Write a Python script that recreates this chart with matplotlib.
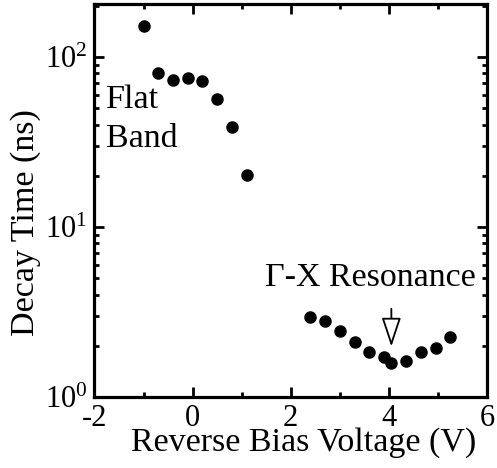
import numpy as np
import matplotlib
matplotlib.use("Agg")
import matplotlib.pyplot as plt
from matplotlib.ticker import LogLocator, LogFormatterMathtext, MultipleLocator, NullFormatter

plt.rcParams['font.family'] = ['Liberation Serif', 'DejaVu Serif']
plt.rcParams['mathtext.fontset'] = 'custom'
plt.rcParams['mathtext.rm'] = 'Liberation Serif'
plt.rcParams['mathtext.it'] = 'Liberation Serif:italic'
plt.rcParams['axes.unicode_minus'] = False

# flat band regime
bias_flat = [-1.0, -0.7, -0.4, -0.1, 0.2, 0.5, 0.8, 1.1]
decay_flat = [153, 80.6, 73.3, 75.2, 72.6, 56.6, 38.5, 20.3]

# Gamma-X resonance regime
bias_res = [2.4, 2.7, 3.0, 3.3, 3.6, 3.9, 4.05, 4.35, 4.65, 4.95, 5.25]
decay_res = [2.94, 2.80, 2.44, 2.10, 1.85, 1.73, 1.59, 1.63, 1.83, 1.93, 2.25]

fig = plt.figure(figsize=(4.97, 4.68), dpi=100)
ax = fig.add_axes([0.190, 0.1517, 0.790, 0.8398])

ax.plot(bias_flat + bias_res, decay_flat + decay_res, 'o', color='black', ms=8, mec='black')

ax.set_yscale('log')
ax.set_xlim(-2, 6)
ax.set_ylim(1, 205)

ax.xaxis.set_major_locator(MultipleLocator(2))
ax.xaxis.set_minor_locator(MultipleLocator(1))
ax.yaxis.set_major_locator(LogLocator(base=10, numticks=5))
ax.yaxis.set_major_formatter(LogFormatterMathtext())
ax.yaxis.set_minor_locator(LogLocator(base=10, subs=np.arange(2, 10), numticks=20))
ax.yaxis.set_minor_formatter(NullFormatter())

for s in ax.spines.values():
    s.set_linewidth(2.3)
ax.tick_params(which='both', direction='in', top=True, right=True, width=2.0)
ax.tick_params(which='major', length=7, labelsize=22)
ax.tick_params(axis='x', which='major', pad=5)
ax.tick_params(axis='y', which='major', pad=5)
ax.tick_params(which='minor', length=3.5)

ax.set_xlabel('Reverse Bias Voltage (V)', fontsize=24.5)
ax.set_ylabel('Decay Time (ns)', fontsize=24.5)
ax.xaxis.set_label_coords(0.532, -0.076)
ax.yaxis.set_label_coords(-0.136, 0.443)

ax.text(-1.76, 49.8, 'Flat', fontsize=24.5, va='baseline', ha='left')
ax.text(-1.76, 29.4, 'Band', fontsize=24.5, va='baseline', ha='left')
ax.text(1.475, 4.5, '\u0393-X Resonance', fontsize=24.5, va='baseline', ha='left')

ax.annotate('', xy=(4.05, 1.98), xytext=(4.05, 3.3),
            arrowprops=dict(arrowstyle='-|>,head_length=0.9,head_width=0.3', mutation_scale=20,
                            shrinkA=0, shrinkB=0, fc='white', ec='black', lw=1.3))

plt.savefig('out.png', dpi=100)
